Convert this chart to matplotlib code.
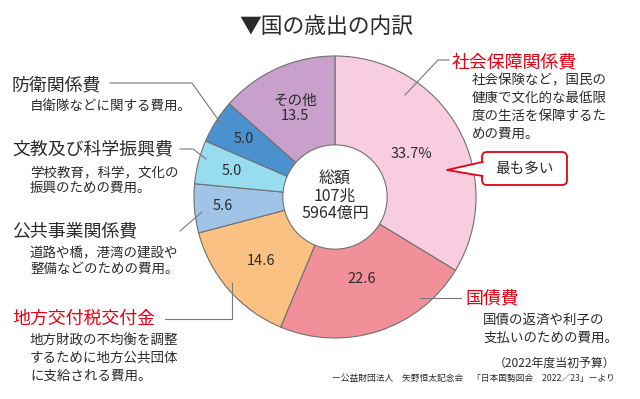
import numpy as np
import matplotlib
matplotlib.use("Agg")
import matplotlib.pyplot as plt
from matplotlib.patches import FancyBboxPatch, Polygon

plt.rcParams['font.family'] = ['Noto Sans CJK JP', 'DejaVu Sans']

# data (clockwise from the top)
names = ['社会保障関係費', '国債費', '地方交付税交付金', '公共事業関係費',
         '文教及び科学振興費', '防衛関係費', 'その他']
shares = [33.7, 22.6, 14.6, 5.6, 5.0, 5.0, 13.5]
slice_text = ['33.7%', '22.6', '14.6', '5.6', '5.0', '5.0', 'その他\n13.5']
slice_colors = ['#F8CDE0', '#F2909A', '#FBC182', '#A0C4E8', '#98DCF0', '#4B91D0', '#C8A0CB']

notes = {
    '社会保障関係費': ['社会保険など，国民の', '健康で文化的な最低限', '度の生活を保障するた', 'めの費用。'],
    '国債費': ['国債の返済や利子の', '支払いのための費用。'],
    '地方交付税交付金': ['地方財政の不均衡を調整', 'するために地方公共団体', 'に支給される費用。'],
    '公共事業関係費': ['道路や橋，港湾の建設や', '整備などのための費用。'],
    '文教及び科学振興費': ['学校教育，科学，文化の', '振興のための費用。'],
    '防衛関係費': ['自衛隊などに関する費用。'],
}
red_names = ['社会保障関係費', '国債費', '地方交付税交付金']

title = '▼国の歳出の内訳'
center_text = '総額\n107兆\n5964億円'
callout = '最も多い'
budget_note = '（2022年度当初予算）'
source = 'ー公益財団法人　矢野恒太記念会　「日本国勢図会　2022／23」ーより'

W, H = 640, 399
TXT = '#2b2b2b'
RED = '#E60012'
LINE = '#7a7a7a'


def Y(y):
    return H - y


fig = plt.figure(figsize=(6.4, 3.99), dpi=100)
ax = fig.add_axes([0, 0, 1, 1])

cx, cy, R = 335, Y(197), 141
wedges, _ = ax.pie(shares, colors=slice_colors, startangle=90, counterclock=False,
                   center=(cx, cy), radius=R, frame=True,
                   wedgeprops=dict(width=R * 0.63, edgecolor='#707070', linewidth=0.8))
ax.set_xlim(0, W)
ax.set_ylim(0, H)
ax.set_aspect('equal')
ax.axis('off')

# numbers inside the ring
label_r = [88, 86, 98, 113, 106, 108, 97]
for w, t, r in zip(wedges, slice_text, label_r):
    a = np.deg2rad((w.theta1 + w.theta2) / 2)
    ax.text(cx + r * np.cos(a), cy + r * np.sin(a), t, ha='center', va='center',
            fontsize=10.5, color=TXT, linespacing=1.05)

ax.text(cx, cy + 1, center_text, ha='center', va='center', fontsize=11.5,
        color=TXT, linespacing=1.0)

ax.text(326, Y(27), title, ha='center', va='center', fontsize=15.7, color=TXT)

# name + note blocks: (x, y of name, note x, first note y, note step)
blocks = {
    '防衛関係費': (12, 85, 30, 107, 17),
    '文教及び科学振興費': (12, 149, 30, 172, 16),
    '公共事業関係費': (12, 231, 30, 253, 16),
    '地方交付税交付金': (12, 319, 30, 340, 18),
    '社会保障関係費': (452, 62, 472, 80, 18),
    '国債費': (465, 298, 483, 320, 18),
}
for n, (x, y, nx, ny, step) in blocks.items():
    ax.text(x, Y(y), n, ha='left', va='center', fontsize=12.9,
            color=RED if n in red_names else TXT)
    for i, line in enumerate(notes[n]):
        ax.text(nx, Y(ny + i * step), line, ha='left', va='center', fontsize=9.7, color=TXT)

# leader lines
leaders = [
    [(110, 83), (192, 83), (222, 125)],
    [(180, 149), (193, 149), (206, 159)],
    [(180, 231), (202, 212)],
    [(165, 319), (232, 319), (232, 283)],
    [(449, 60), (438, 60), (405, 95)],
    [(420, 298), (461, 298)],
]
for pts in leaders:
    xs = [p[0] for p in pts]
    ys = [Y(p[1]) for p in pts]
    ax.plot(xs, ys, color=LINE, lw=0.8, zorder=3)

# callout bubble
box = FancyBboxPatch((482, Y(185)), 85, 33, boxstyle='round,pad=0,rounding_size=5',
                     facecolor='white', edgecolor=RED, lw=1.3, zorder=4)
ax.add_patch(box)
ax.add_patch(Polygon([(484, Y(162)), (447, Y(170)), (484, Y(176))], closed=True,
                     facecolor='white', edgecolor='none', zorder=5))
ax.plot([482.5, 447, 482.5], [Y(162), Y(170), Y(176)], color=RED, lw=1.3, zorder=6)
ax.text(525, Y(169), callout, ha='center', va='center', fontsize=10.5, color=TXT, zorder=7)

ax.text(615, Y(363), budget_note, ha='right', va='center', fontsize=8.6, color=TXT)
ax.text(615, Y(378), source, ha='right', va='center', fontsize=6.3, color=TXT)

fig.savefig('out.png', dpi=100)
